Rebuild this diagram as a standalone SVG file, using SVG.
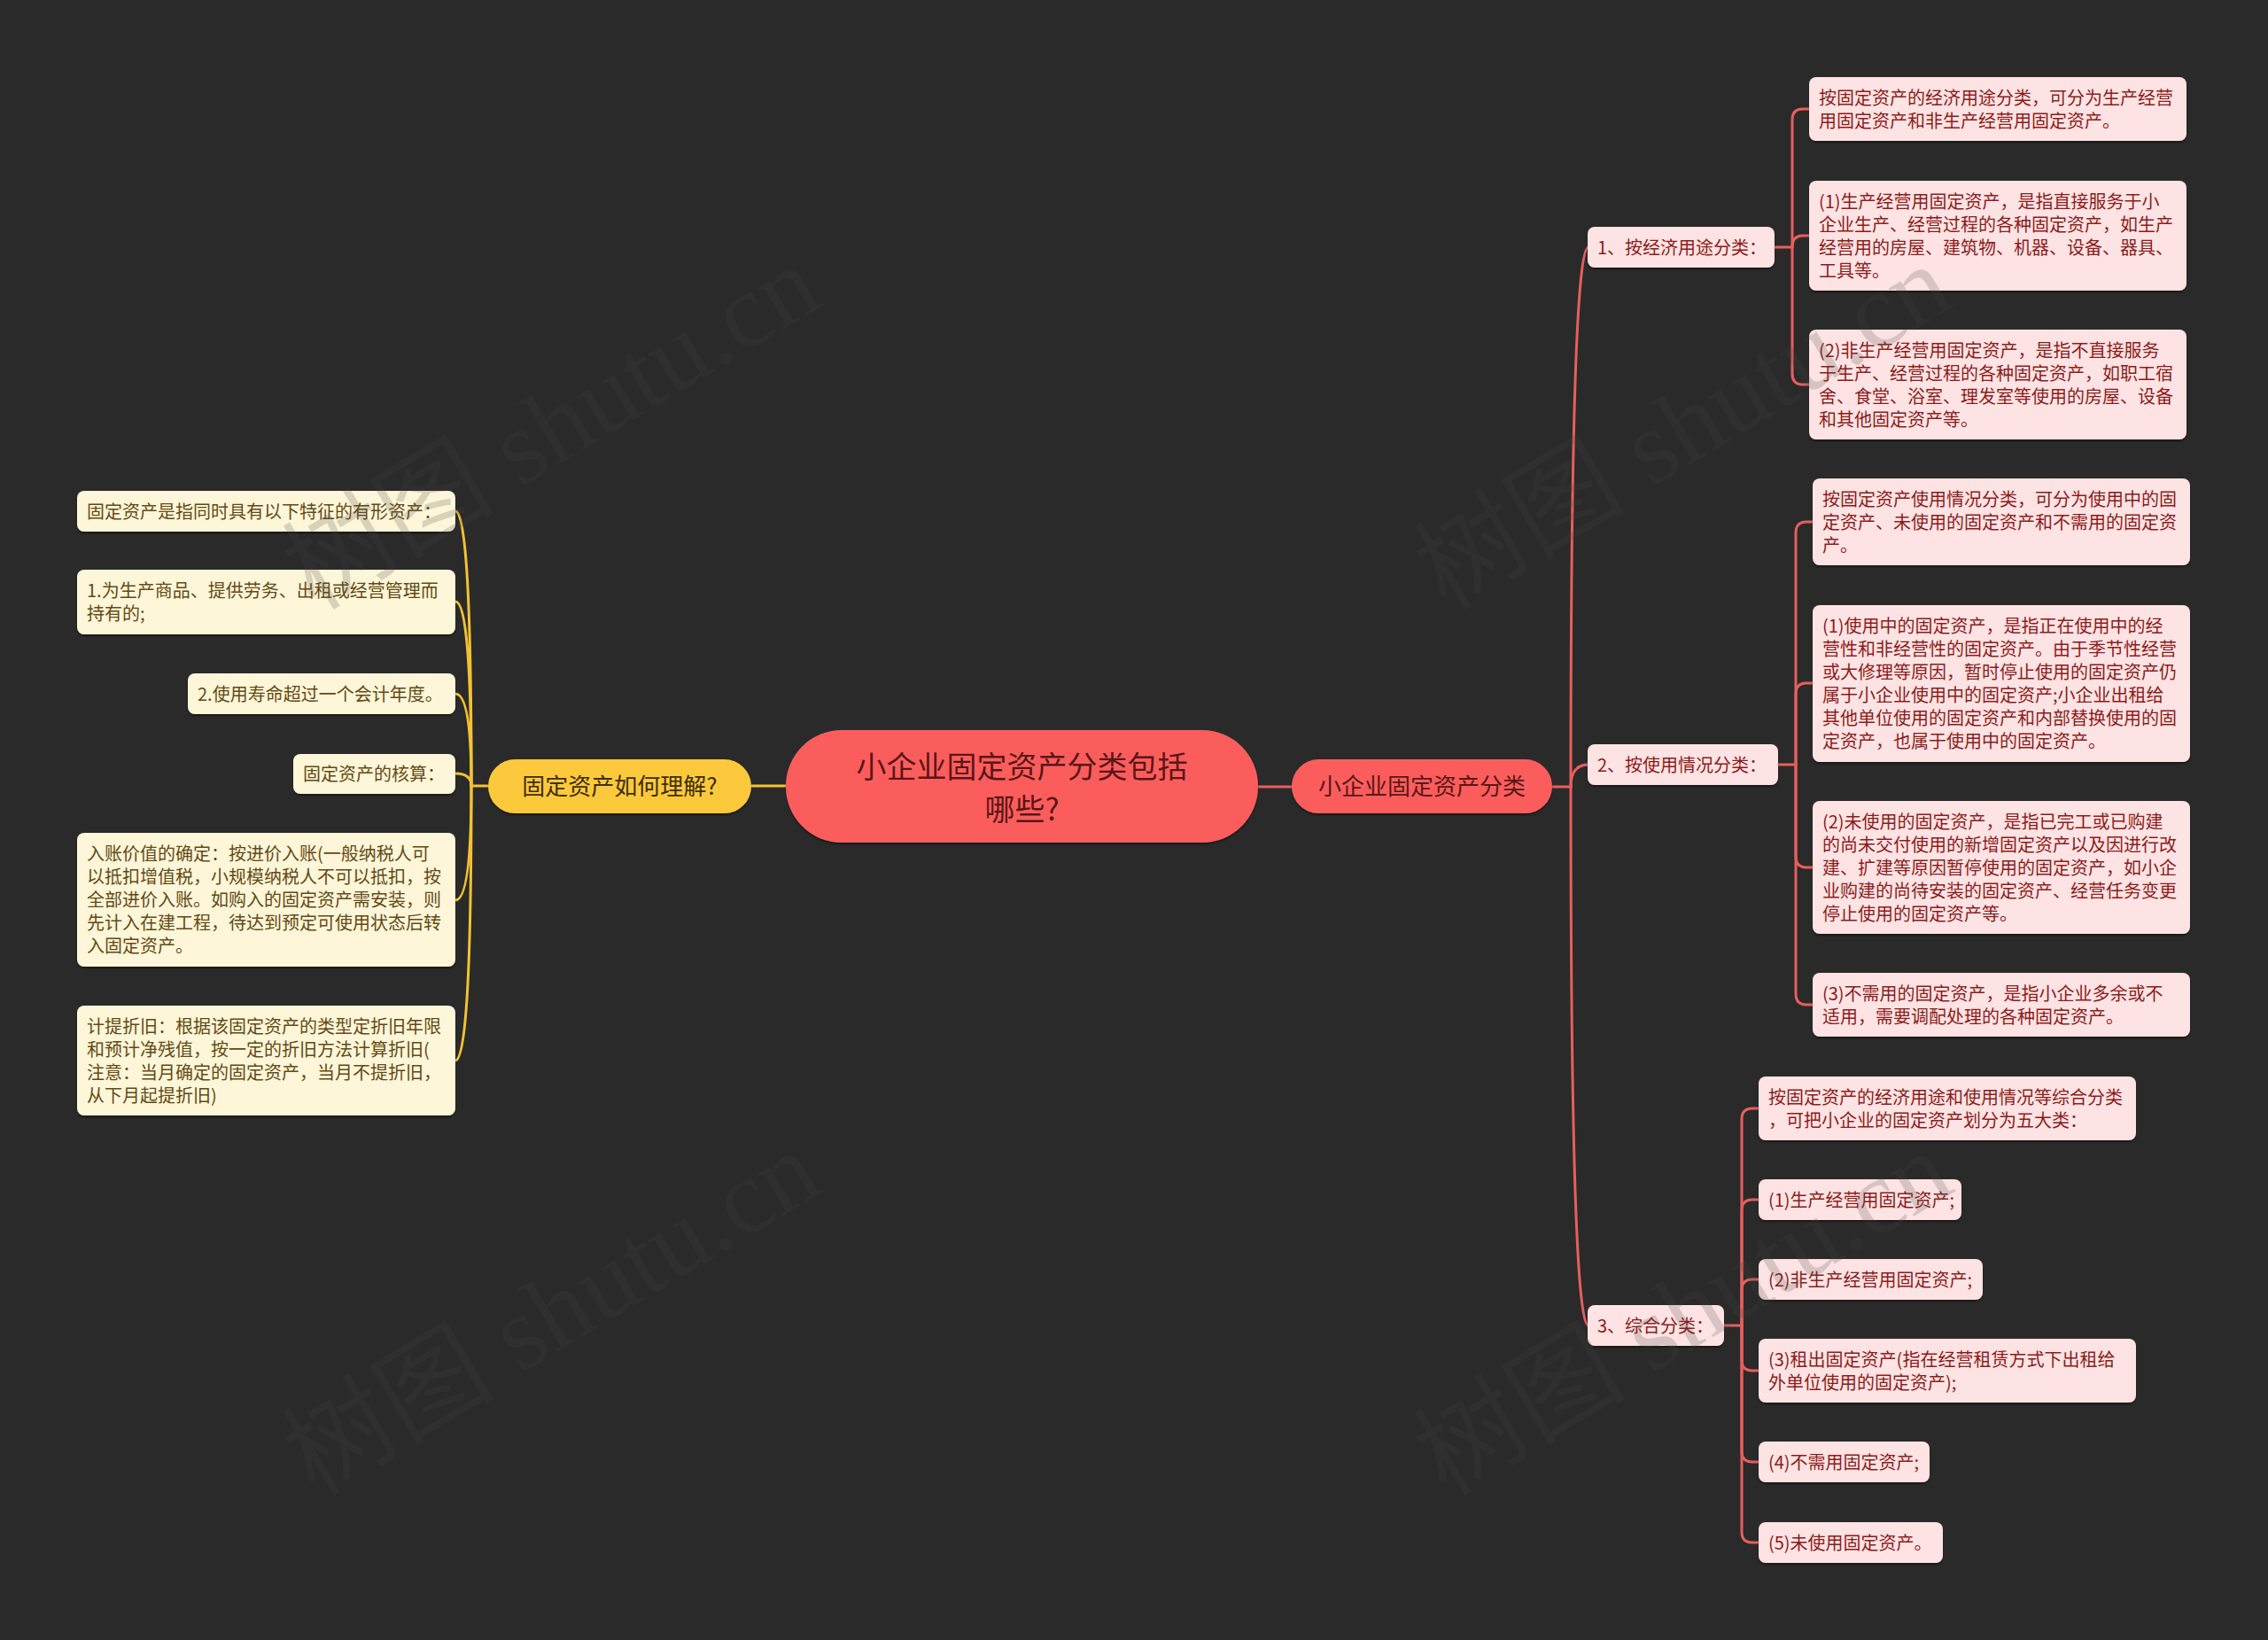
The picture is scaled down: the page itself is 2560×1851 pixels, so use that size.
<svg xmlns="http://www.w3.org/2000/svg" width="2560" height="1851" viewBox="0 0 2560 1851">
<defs>
<filter id="sh" x="-5%" y="-10%" width="110%" height="130%">
<feDropShadow dx="0" dy="2" stdDeviation="1.2" flood-color="#000" flood-opacity="0.45"/>
</filter>
<style>
text{font-family:"Noto Sans CJK SC","Noto Sans",sans-serif;}
.cream rect{fill:#fef6d9;}
.cream text{fill:#634a14;font-size:20px;}
.pink rect{fill:#fde3e3;}
.pink text{fill:#8c1c1c;font-size:20px;}
.red rect{fill:#fb5d5d;}
.red text{fill:#5a1616;}
.yel rect{fill:#fcc93e;}
.yel text{fill:#3d2e08;}
.cy{fill:none;stroke:#f3c234;stroke-width:3;stroke-linecap:round;}
.cr{fill:none;stroke:#e85e5e;stroke-width:3;stroke-linecap:round;}
.wm{font-family:"Liberation Serif","Noto Sans CJK SC",serif;font-size:120px;fill:#474747;fill-opacity:0.2;}
</style>
</defs>
<rect width="2560" height="1851" fill="#2a2a2a"/>

<g id="connectors">
<path class="cy" d="M848 887H887" stroke-width="4"/>
<path class="cy" d="M551 887H532"/>
<path class="cy" d="M532 887Q532 577 514 577"/>
<path class="cy" d="M532 887Q532 679 514 679"/>
<path class="cy" d="M532 887Q532 783 514 783"/>
<path class="cy" d="M532 887Q532 873 514 873"/>
<path class="cy" d="M532 887Q532 1016 514 1016"/>
<path class="cy" d="M532 887Q532 1197 514 1197"/>

<path class="cr" d="M1420 888H1458" stroke-width="4"/>
<path class="cr" d="M1752 888H1773"/>
<path class="cr" d="M1773 888Q1773 279 1793 279"/>
<path class="cr" d="M1773 888Q1773 863 1793 863"/>
<path class="cr" d="M1773 888Q1773 1496 1793 1496"/>

<path class="cr" d="M2003 279H2023"/>
<path class="cr" d="M2023 279V135Q2023 123 2035 123H2042"/>
<path class="cr" d="M2023 279Q2023 266 2035 266H2042"/>
<path class="cr" d="M2023 279V422Q2023 434 2035 434H2042"/>

<path class="cr" d="M2007 863H2027"/>
<path class="cr" d="M2027 863V601Q2027 589 2039 589H2046"/>
<path class="cr" d="M2027 863V783Q2027 771 2039 771H2046"/>
<path class="cr" d="M2027 863V967Q2027 979 2039 979H2046"/>
<path class="cr" d="M2027 863V1122Q2027 1134 2039 1134H2046"/>

<path class="cr" d="M1946 1496H1966"/>
<path class="cr" d="M1966 1496V1263Q1966 1251 1978 1251H1985"/>
<path class="cr" d="M1966 1496V1366Q1966 1354 1978 1354H1985"/>
<path class="cr" d="M1966 1496V1456Q1966 1444 1978 1444H1985"/>
<path class="cr" d="M1966 1496V1535Q1966 1547 1978 1547H1985"/>
<path class="cr" d="M1966 1496V1638Q1966 1650 1978 1650H1985"/>
<path class="cr" d="M1966 1496V1729Q1966 1741 1978 1741H1985"/>
</g>

<g id="center" class="red">
<rect x="887" y="824" width="533" height="127" rx="63" filter="url(#sh)"/>
<text x="1153.5" y="878" text-anchor="middle" font-size="34">小企业固定资产分类包括</text>
<text x="1153.5" y="926" text-anchor="middle" font-size="34">哪些?</text>
</g>

<g id="n-left" class="yel">
<rect x="551" y="857" width="297" height="61" rx="30.5" filter="url(#sh)"/>
<text x="699.5" y="897" text-anchor="middle" font-size="26">固定资产如何理解?</text>
</g>

<g id="n-right" class="red">
<rect x="1458" y="857" width="294" height="61" rx="30.5" filter="url(#sh)"/>
<text x="1605" y="897" text-anchor="middle" font-size="26">小企业固定资产分类</text>
</g>

<g id="l1" class="cream">
<rect x="87" y="554" width="427" height="46" rx="8" filter="url(#sh)"/>
<text x="98" y="585">固定资产是指同时具有以下特征的有形资产：</text>
</g>
<g id="l2" class="cream">
<rect x="87" y="643" width="427" height="73" rx="8" filter="url(#sh)"/>
<text><tspan x="98" y="674">1.为生产商品、提供劳务、出租或经营管理而</tspan><tspan x="98" y="700">持有的;</tspan></text>
</g>
<g id="l3" class="cream">
<rect x="212" y="760" width="302" height="46" rx="8" filter="url(#sh)"/>
<text x="223" y="790.5">2.使用寿命超过一个会计年度。</text>
</g>
<g id="l4" class="cream">
<rect x="331" y="851" width="183" height="45" rx="8" filter="url(#sh)"/>
<text x="342" y="881">固定资产的核算：</text>
</g>
<g id="l5" class="cream">
<rect x="87" y="940" width="427" height="151" rx="8" filter="url(#sh)"/>
<text><tspan x="98" y="971">入账价值的确定：按进价入账(一般纳税人可</tspan><tspan x="98" y="997">以抵扣增值税，小规模纳税人不可以抵扣，按</tspan><tspan x="98" y="1023">全部进价入账。如购入的固定资产需安装，则</tspan><tspan x="98" y="1049">先计入在建工程，待达到预定可使用状态后转</tspan><tspan x="98" y="1075">入固定资产。</tspan></text>
</g>
<g id="l6" class="cream">
<rect x="87" y="1135" width="427" height="124" rx="8" filter="url(#sh)"/>
<text><tspan x="98" y="1165.5">计提折旧：根据该固定资产的类型定折旧年限</tspan><tspan x="98" y="1191.5">和预计净残值，按一定的折旧方法计算折旧(</tspan><tspan x="98" y="1217.5">注意：当月确定的固定资产，当月不提折旧，</tspan><tspan x="98" y="1243.5">从下月起提折旧)</tspan></text>
</g>

<g id="r1" class="pink">
<rect x="1792" y="256" width="211" height="46" rx="8" filter="url(#sh)"/>
<text x="1803" y="286.5">1、按经济用途分类：</text>
</g>
<g id="r1a" class="pink">
<rect x="2042" y="87" width="426" height="72" rx="8" filter="url(#sh)"/>
<text><tspan x="2053" y="117.5">按固定资产的经济用途分类，可分为生产经营</tspan><tspan x="2053" y="143.5">用固定资产和非生产经营用固定资产。</tspan></text>
</g>
<g id="r1b" class="pink">
<rect x="2042" y="204" width="426" height="124" rx="8" filter="url(#sh)"/>
<text><tspan x="2053" y="234.5">(1)生产经营用固定资产，是指直接服务于小</tspan><tspan x="2053" y="260.5">企业生产、经营过程的各种固定资产，如生产</tspan><tspan x="2053" y="286.5">经营用的房屋、建筑物、机器、设备、器具、</tspan><tspan x="2053" y="312.5">工具等。</tspan></text>
</g>
<g id="r1c" class="pink">
<rect x="2042" y="372" width="426" height="124" rx="8" filter="url(#sh)"/>
<text><tspan x="2053" y="402.5">(2)非生产经营用固定资产，是指不直接服务</tspan><tspan x="2053" y="428.5">于生产、经营过程的各种固定资产，如职工宿</tspan><tspan x="2053" y="454.5">舍、食堂、浴室、理发室等使用的房屋、设备</tspan><tspan x="2053" y="480.5">和其他固定资产等。</tspan></text>
</g>

<g id="r2" class="pink">
<rect x="1792" y="840" width="215" height="46" rx="8" filter="url(#sh)"/>
<text x="1803" y="870.5">2、按使用情况分类：</text>
</g>
<g id="r2a" class="pink">
<rect x="2046" y="540" width="426" height="98" rx="8" filter="url(#sh)"/>
<text><tspan x="2057" y="570.5">按固定资产使用情况分类，可分为使用中的固</tspan><tspan x="2057" y="596.5">定资产、未使用的固定资产和不需用的固定资</tspan><tspan x="2057" y="622.5">产。</tspan></text>
</g>
<g id="r2b" class="pink">
<rect x="2046" y="683" width="426" height="177" rx="8" filter="url(#sh)"/>
<text><tspan x="2057" y="714">(1)使用中的固定资产，是指正在使用中的经</tspan><tspan x="2057" y="740">营性和非经营性的固定资产。由于季节性经营</tspan><tspan x="2057" y="766">或大修理等原因，暂时停止使用的固定资产仍</tspan><tspan x="2057" y="792">属于小企业使用中的固定资产;小企业出租给</tspan><tspan x="2057" y="818">其他单位使用的固定资产和内部替换使用的固</tspan><tspan x="2057" y="844">定资产，也属于使用中的固定资产。</tspan></text>
</g>
<g id="r2c" class="pink">
<rect x="2046" y="904" width="426" height="150" rx="8" filter="url(#sh)"/>
<text><tspan x="2057" y="934.5">(2)未使用的固定资产，是指已完工或已购建</tspan><tspan x="2057" y="960.5">的尚未交付使用的新增固定资产以及因进行改</tspan><tspan x="2057" y="986.5">建、扩建等原因暂停使用的固定资产，如小企</tspan><tspan x="2057" y="1012.5">业购建的尚待安装的固定资产、经营任务变更</tspan><tspan x="2057" y="1038.5">停止使用的固定资产等。</tspan></text>
</g>
<g id="r2d" class="pink">
<rect x="2046" y="1098" width="426" height="72" rx="8" filter="url(#sh)"/>
<text><tspan x="2057" y="1128.5">(3)不需用的固定资产，是指小企业多余或不</tspan><tspan x="2057" y="1154.5">适用，需要调配处理的各种固定资产。</tspan></text>
</g>

<g id="r3" class="pink">
<rect x="1792" y="1473" width="154" height="46" rx="8" filter="url(#sh)"/>
<text x="1803" y="1503.5">3、综合分类：</text>
</g>
<g id="r3a" class="pink">
<rect x="1985" y="1215" width="426" height="72" rx="8" filter="url(#sh)"/>
<text><tspan x="1996" y="1245.5">按固定资产的经济用途和使用情况等综合分类</tspan><tspan x="1996" y="1271.5">，可把小企业的固定资产划分为五大类：</tspan></text>
</g>
<g id="r3b" class="pink">
<rect x="1985" y="1331" width="229" height="46" rx="8" filter="url(#sh)"/>
<text x="1996" y="1361.5">(1)生产经营用固定资产;</text>
</g>
<g id="r3c" class="pink">
<rect x="1985" y="1421" width="253" height="46" rx="8" filter="url(#sh)"/>
<text x="1996" y="1451.5">(2)非生产经营用固定资产;</text>
</g>
<g id="r3d" class="pink">
<rect x="1985" y="1511" width="426" height="72" rx="8" filter="url(#sh)"/>
<text><tspan x="1996" y="1541.5">(3)租出固定资产(指在经营租赁方式下出租给</tspan><tspan x="1996" y="1567.5">外单位使用的固定资产);</tspan></text>
</g>
<g id="r3e" class="pink">
<rect x="1985" y="1627" width="193" height="46" rx="8" filter="url(#sh)"/>
<text x="1996" y="1657.5">(4)不需用固定资产;</text>
</g>
<g id="r3f" class="pink">
<rect x="1985" y="1718" width="208" height="46" rx="8" filter="url(#sh)"/>
<text x="1996" y="1748.5">(5)未使用固定资产。</text>
</g>

<g id="watermarks">
<text class="wm" transform="translate(355 690) rotate(-31)">树图 shutu.cn</text>
<text class="wm" transform="translate(1632 690) rotate(-31)">树图 shutu.cn</text>
<text class="wm" transform="translate(355 1690) rotate(-31)">树图 shutu.cn</text>
<text class="wm" transform="translate(1632 1690) rotate(-31)">树图 shutu.cn</text>
</g>
</svg>
